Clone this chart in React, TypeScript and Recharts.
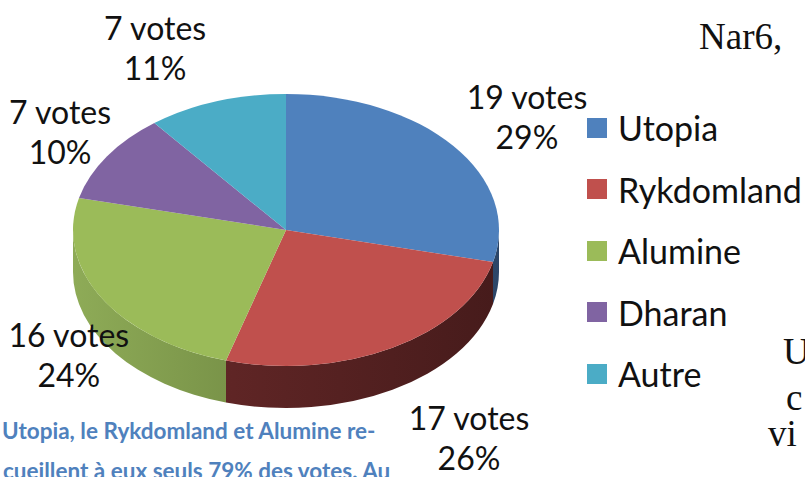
import React from 'react';
import { PieChart, Pie, Legend } from 'recharts';

const categories = ['Utopia', 'Rykdomland', 'Alumine', 'Dharan', 'Autre'];
const votes = [19, 17, 16, 7, 7];
const percentLabels = ['29%', '26%', '24%', '10%', '11%'];

const TOP_COLORS = ['#4f81bd', '#c0504d', '#9bbb59', '#8064a2', '#4bacc6'];
const SIDE_LIGHT = ['#4a6f9c', '#6e2b2b', '#8eab57', '#5e4a78', '#3a8499'];
const SIDE_DARK = ['#2c4668', '#461b1b', '#566b30', '#3c2f4e', '#25596a'];

// label nudges (px) on top of the radial placement
const labelNudge = [[13, 1], [38, 6], [34, -10], [18, 2], [-36, -7]];

const CX = 286;
const CY = 230;
const RX = 213;
const RY = 136;
const DEPTH = 42;
const RAD = Math.PI / 180;

const data = categories.map((name, i) => ({ name, value: votes[i] }));

const pt = (a: number, dy = 0) => [CX + RX * Math.cos(a * RAD), CY - RY * Math.sin(a * RAD) + dy];

const Slice3D = (props: any) => {
  const { startAngle, endAngle, index } = props;
  const i = index ?? categories.indexOf(props.name ?? props.payload?.name);
  const [sx, sy] = pt(startAngle);
  const [ex, ey] = pt(endAngle);
  const large = Math.abs(startAngle - endAngle) > 180 ? 1 : 0;
  const top = `M${CX},${CY} L${sx},${sy} A${RX},${RY} 0 ${large} 1 ${ex},${ey} Z`;

  // visible front wall: part of the arc between -180 and 0 degrees
  const hi = Math.min(startAngle, 0);
  const lo = Math.max(endAngle, -180);
  let wall = null;
  if (lo < hi) {
    const [hx, hy] = pt(hi);
    const [lx, ly] = pt(lo);
    const d = `M${hx},${hy} A${RX},${RY} 0 0 1 ${lx},${ly} L${lx},${ly + DEPTH} A${RX},${RY} 0 0 0 ${hx},${hy + DEPTH} Z`;
    wall = <path d={d} fill={`url(#side${i})`} stroke="none" />;
  }
  return (
    <g>
      {wall}
      <path d={top} fill={TOP_COLORS[i]} stroke="none" />
    </g>
  );
};

const renderLabel = (props: any) => {
  const { midAngle, index } = props;
  const front = Math.sin(midAngle * RAD) < 0;
  const x = CX + 290 * Math.cos(midAngle * RAD) + labelNudge[index][0];
  const y = CY - 185 * Math.sin(midAngle * RAD) + (front ? DEPTH : 0) + labelNudge[index][1];
  return (
    <text x={x} y={y} textAnchor="middle" fill="#111" fontFamily="Lato, sans-serif" fontSize={32}>
      <tspan x={x} dy={-8}>{`${votes[index]} votes`}</tspan>
      <tspan x={x} dy={40}>{percentLabels[index]}</tspan>
    </text>
  );
};

const renderLegend = () => (
  <div style={{ fontFamily: 'Lato, sans-serif', fontSize: 34, color: '#111' }}>
    {categories.map((c, i) => (
      <div key={c} style={{ display: 'flex', alignItems: 'center', height: 61.5, whiteSpace: 'nowrap' }}>
        <span style={{ width: 20, height: 20, background: TOP_COLORS[i], marginRight: 11, display: 'inline-block' }} />
        <span>{c}</span>
      </div>
    ))}
  </div>
);

const serif: React.CSSProperties = {
  position: 'absolute',
  fontFamily: '"Liberation Serif", serif',
  fontSize: 37,
  color: '#111',
  lineHeight: 1,
  whiteSpace: 'nowrap',
};

const blue: React.CSSProperties = {
  position: 'absolute',
  fontFamily: 'Lato, sans-serif',
  fontWeight: 700,
  fontSize: 22.5,
  color: '#4f81bd',
  lineHeight: 1,
  whiteSpace: 'nowrap',
};

export default function App() {
  return (
    <div style={{ position: 'absolute', left: 0, top: 0, width: 805, height: 477, overflow: 'hidden', background: '#fff' }}>
      <PieChart width={805} height={477} margin={{ top: 0, right: 0, bottom: 0, left: 0 }}>
        <defs>
          {TOP_COLORS.map((_, i) => (
            <linearGradient key={i} id={`side${i}`} gradientUnits="userSpaceOnUse" x1={CX - RX} y1={0} x2={CX + RX} y2={0}>
              <stop offset="0%" stopColor={SIDE_LIGHT[i]} />
              <stop offset="100%" stopColor={SIDE_DARK[i]} />
            </linearGradient>
          ))}
        </defs>
        <Pie
          data={data}
          dataKey="value"
          nameKey="name"
          cx={CX}
          cy={CY}
          outerRadius={RX}
          startAngle={90}
          endAngle={-270}
          stroke="none"
          shape={Slice3D}
          label={renderLabel}
          labelLine={false}
          isAnimationActive={false}
        />
        <Legend
          content={renderLegend}
          layout="vertical"
          wrapperStyle={{ position: 'absolute', left: 587, top: 97, width: 230 }}
        />
      </PieChart>
      <div style={{ ...serif, left: 699, top: 18 }}>Nar6,</div>
      <div style={{ ...serif, left: 783, top: 333 }}>U</div>
      <div style={{ ...serif, left: 786, top: 379 }}>c</div>
      <div style={{ ...serif, left: 768, top: 415 }}>vi</div>
      <div style={{ ...blue, left: 2, top: 420 }}>Utopia, le Rykdomland et Alumine re-</div>
      <div style={{ ...blue, left: 3, top: 460 }}>cueillent à eux seuls 79% des votes. Au</div>
    </div>
  );
}
